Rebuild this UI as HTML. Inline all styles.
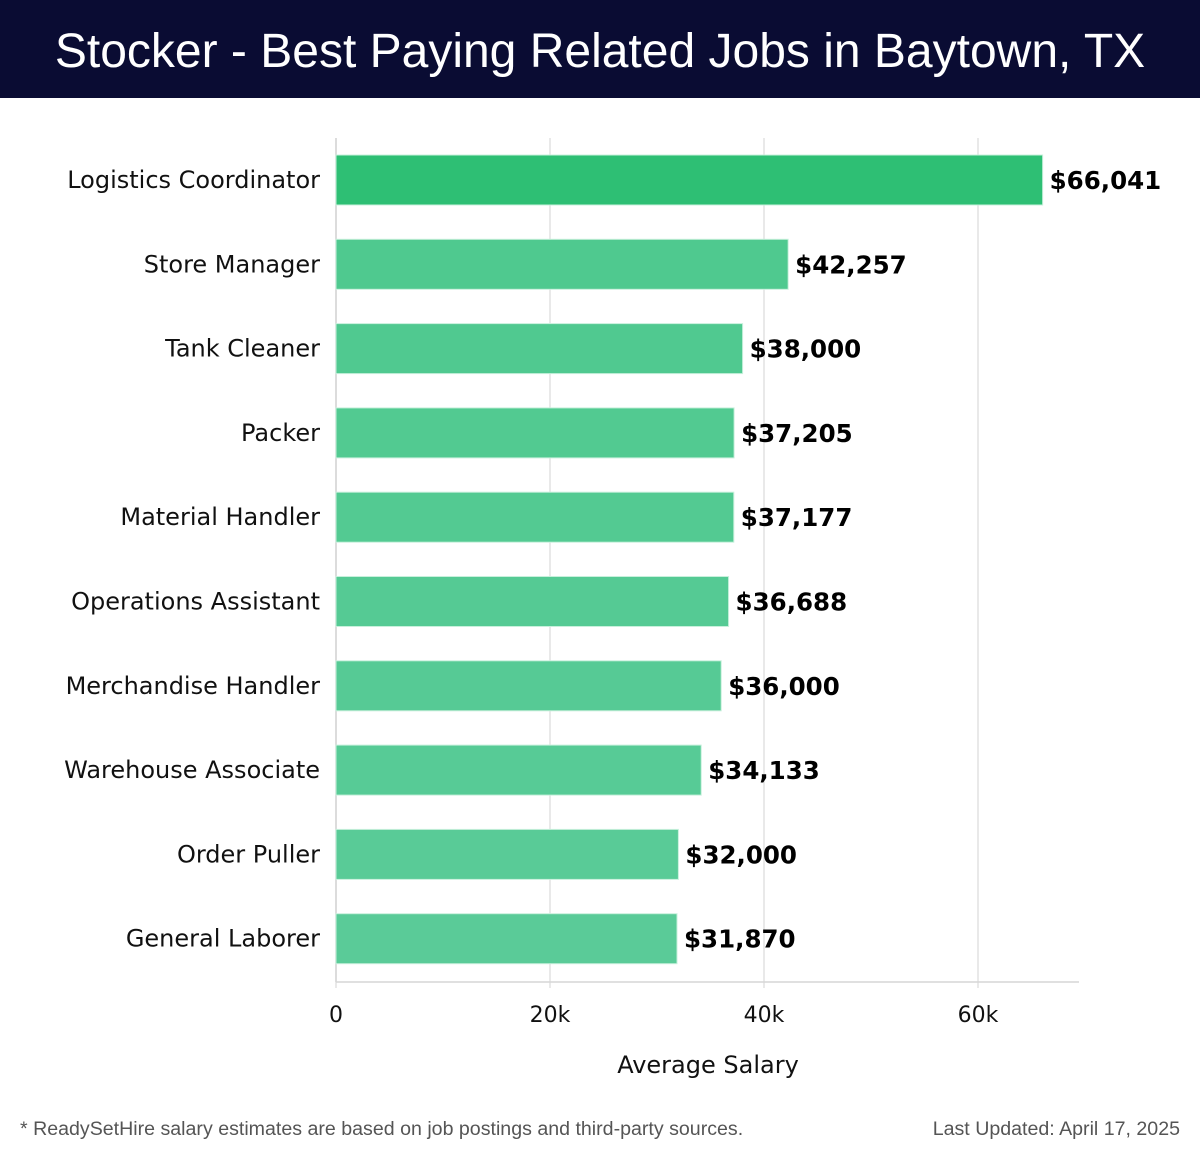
<!DOCTYPE html>
<html><head><meta charset="utf-8">
<style>
body{margin:0;background:#fff;width:1200px;height:1158px;overflow:hidden;font-family:"DejaVu Sans","Liberation Sans",sans-serif;}
#title{position:absolute;left:0;top:0;width:1200px;height:98px;background:#0a0c33;color:#fff;font-family:"Liberation Sans",sans-serif;font-size:48px;line-height:104px;text-align:center;}
svg{position:absolute;left:0;top:0}
.foot{position:absolute;top:1118px;font-size:19.6px;color:#555;font-family:"Liberation Sans",sans-serif;}
</style></head><body>
<div id="title">Stocker - Best Paying Related Jobs in Baytown, TX</div>
<svg id="chart" width="1200" height="1158"></svg>
<div class="foot" style="left:20px">* ReadySetHire salary estimates are based on job postings and third-party sources.</div>
<div class="foot" style="right:20px">Last Updated: April 17, 2025</div>
<script>
const categories=["Logistics Coordinator","Store Manager","Tank Cleaner","Packer","Material Handler","Operations Assistant","Merchandise Handler","Warehouse Associate","Order Puller","General Laborer"];
const values=[66041,42257,38000,37205,37177,36688,36000,34133,32000,31870];
const tickValues=[0,20000,40000,60000];
const tickLabels=["0","20k","40k","60k"];
const NS="http://www.w3.org/2000/svg";
const svg=document.getElementById('chart');
const x0=336,pxPerK=10.7;
const x=v=>x0+v/1000*pxPerK;
const yc=i=>180+i*84.3;
const barH=50, plotTop=138, plotBottom=982;
function el(t,a){const e=document.createElementNS(NS,t);for(const k in a)e.setAttribute(k,a[k]);svg.appendChild(e);return e;}
tickValues.forEach((v,i)=>{
  const g=el('line',{x1:x(v),x2:x(v),y1:plotTop,y2:plotBottom+6,stroke:'#e2e2e2','stroke-width':1.5});
  
  
  const t=el('text',{x:x(v),y:1022,'text-anchor':'middle','font-size':22,fill:'#111'});
  t.textContent=tickLabels[i];
  
  
});
const ax=el('line',{x1:x0,x2:1079,y1:plotBottom,y2:plotBottom,stroke:'#d6d6d6','stroke-width':1.5});


const yl=el('line',{x1:x0,x2:x0,y1:plotTop,y2:plotBottom,stroke:'#d6d6d6','stroke-width':1.5});


function color(i){
  if(i===0) return '#2ebf74';
  const a=[79,201,143], b=[90,203,152], f=(i-1)/8;
  return 'rgb('+a.map((c,k)=>Math.round(c+(b[k]-c)*f)).join(',')+')';
}
categories.forEach((c,i)=>{
  const r=el('rect',{x:x0,y:yc(i)-barH/2,width:x(values[i])-x0,height:barH,fill:color(i),stroke:'#c8f0dc','stroke-width':1});
  
  
  const l=el('text',{x:320,y:yc(i)+8,'text-anchor':'end','font-size':24,fill:'#111'});
  l.textContent=c;
  
  
  const v=el('text',{x:x(values[i])+7,y:yc(i)+9,'font-size':24.5,'font-weight':'bold',fill:'#000'});
  v.textContent='$'+values[i].toLocaleString('en-US');
  
  
});
const at=el('text',{x:708,y:1073,'text-anchor':'middle','font-size':24,fill:'#111'});
at.textContent='Average Salary';


</script>
</body></html>
